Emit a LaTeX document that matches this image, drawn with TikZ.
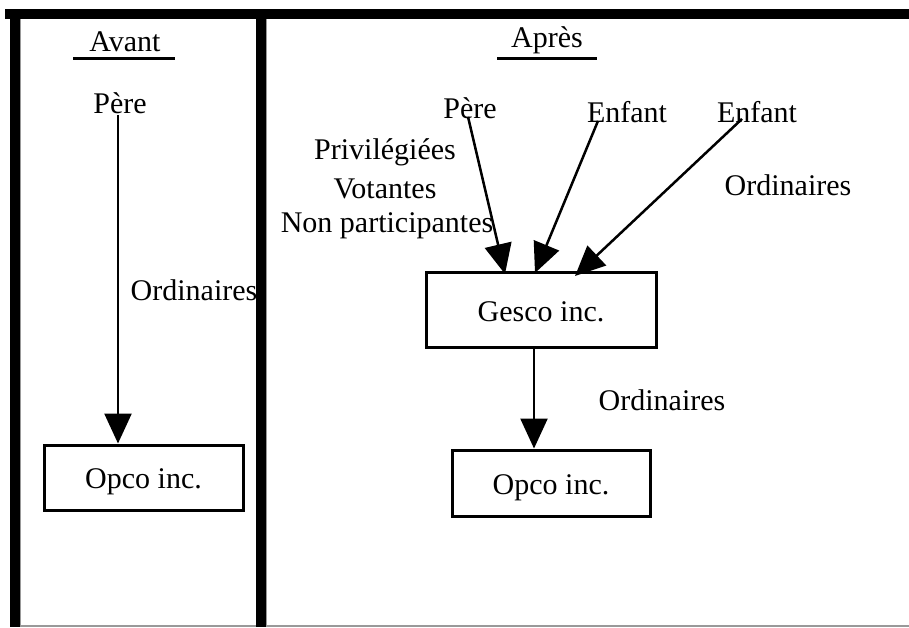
\documentclass[tikz,border=0pt]{standalone}
\usepackage{fontspec}
\setmainfont{Liberation Serif}
\usetikzlibrary{arrows.meta}

\begin{document}
\begin{tikzpicture}[
    x=1pt, y=-1pt,
    txt/.style={inner sep=0pt, font=\fontsize{30}{35}\selectfont},
    box/.style={draw, line width=3pt, minimum width=#1, txt, text height=24pt, text depth=2pt},
    arr/.style={-{Triangle[length=30pt,width=27pt]}, line width=2.5pt},
    bar/.style={line width=10pt}
]
\useasboundingbox (0,0) rectangle (909,627);
% grey borders
\draw[gray!80, line width=1.5pt] (20,19) -- (20,626) -- (909,626);
\draw[gray!80, line width=1.5pt] (266,19) -- (266,626);
% thick frame
\draw[bar] (5,14) -- (909,14);
\draw[bar] (15,9) -- (15,627);
\draw[bar] (261,9) -- (261,627);
% titles
\node[txt] (avant) at (125,42) {Avant};
\draw[line width=3pt] (73,58) -- (175,58);
\node[txt] (apres) at (547,40) {Après};
\draw[line width=3pt] (497,58) -- (597,58);
% avant
\node[txt] (pere1) at (120,103) {Père};
\node[box=199pt, minimum height=65pt] (opco1) at (143.5,477.5) {Opco inc.};
\draw[arr] ([xshift=-2pt,yshift=-1pt]pere1.south) -- ([xshift=-25.5pt]opco1.north);
\node[txt] (ord1) at (194,290) {Ordinaires};
% apres
\node[txt] (pere2) at (470,108) {Père};
\node[txt] (enf1) at (627,112) {Enfant};
\node[txt] (enf2) at (757,112) {Enfant};
\node[txt] (priv) at (385,152) {Privilégiées};
\node[txt] (vot) at (385,189) {Votantes};
\node[txt] (nonpart) at (387,226) {Non participantes};
\node[txt] (ord2) at (788,185) {Ordinaires};
\node[box=230pt, minimum height=75pt] (gesco) at (541,310) {Gesco inc.};
\node[box=198pt, minimum height=66pt] (opco2) at (551,483) {Opco inc.};
\node[txt] (ord3) at (662,400) {Ordinaires};
\draw[arr] ([xshift=-2pt,yshift=2pt]pere2.south) -- ([xshift=-36pt,yshift=-3pt]gesco.north);
\draw[arr] ([xshift=-29pt,yshift=2pt]enf1.south) -- ([xshift=-6pt,yshift=-2pt]gesco.north);
\draw[arr] ([xshift=-15pt,yshift=4pt]enf2.south) -- ([xshift=34pt,yshift=-5pt]gesco.north);
\draw[arr] ([xshift=-7pt]gesco.south) -- ([xshift=-17pt]opco2.north);
\end{tikzpicture}
\end{document}
